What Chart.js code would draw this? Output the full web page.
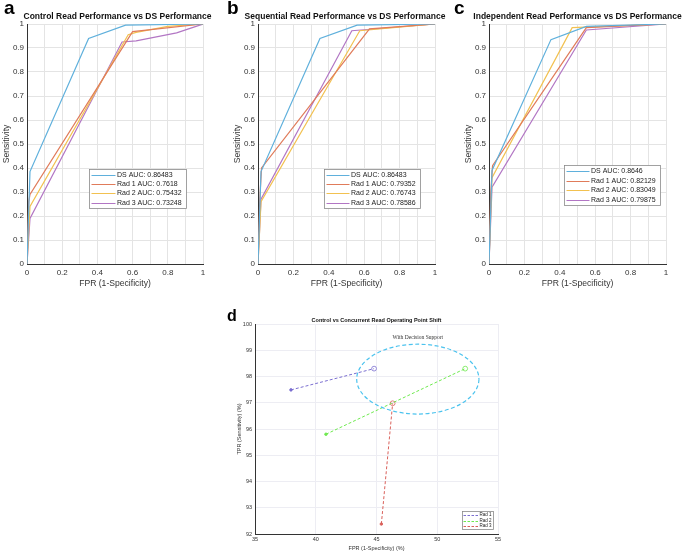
<!DOCTYPE html>
<html>
<head>
<meta charset="utf-8">
<script src="https://cdn.jsdelivr.net/npm/chart.js@4.4.0/dist/chart.umd.min.js"></script>
<style>
body { margin: 0; background: #fff; }
#fig { position: relative; width: 685px; height: 552px; overflow: hidden; font-family: 'Liberation Sans', Arial, sans-serif; }
#fig canvas { position: absolute; }
.tag { position: absolute; font-weight: bold; line-height: 1; color: #000; }
</style>
</head>
<body>
<div id="fig">
  <canvas id="rocA" width="235" height="296" style="left:0;top:0"></canvas>
  <canvas id="rocB" width="228" height="296" style="left:231px;top:0"></canvas>
  <canvas id="rocC" width="231" height="296" style="left:462px;top:0"></canvas>
  <canvas id="shiftD" width="289" height="252" style="left:232px;top:300px"></canvas>
  <div class="tag" style="left:4px;top:-2px;font-size:19px">a</div>
  <div class="tag" style="left:227px;top:-2px;font-size:19px">b</div>
  <div class="tag" style="left:454px;top:-2px;font-size:19px">c</div>
  <div class="tag" style="left:227px;top:308px;font-size:16px">d</div>
</div>
<script>
// ROC curves, [fpr, tpr]
const rocLabels = ['DS', 'Rad 1', 'Rad 2', 'Rad 3']
const rocColors = ['#5fb0dc', '#e07b5a', '#f2c150', '#b276c4']

const dsRoc = [[0, 0], [0.017, 0.385], [0.35, 0.94], [0.56, 0.995], [1, 1]]

const controlRad1 = [[0, 0], [0.01, 0.26], [0.017, 0.29], [0.6, 0.968], [1, 1]]
const controlRad2 = [[0, 0], [0.017, 0.24], [0.575, 0.955], [0.62, 0.965], [0.8, 0.99], [1, 1]]
const controlRad3 = [[0, 0], [0.017, 0.19], [0.54, 0.925], [0.62, 0.93], [0.85, 0.963], [1, 1]]
const controlAuc = ['0.86483', '0.7618', '0.75432', '0.73248']

const sequentialRad1 = [[0, 0], [0.01, 0.27], [0.02, 0.4], [0.63, 0.98], [1, 1]]
const sequentialRad2 = [[0, 0], [0.017, 0.26], [0.575, 0.972], [1, 1]]
const sequentialRad3 = [[0, 0], [0.017, 0.27], [0.53, 0.972], [0.6, 0.976], [1, 1]]
const sequentialAuc = ['0.86483', '0.79352', '0.76743', '0.78586']

const dsRocIndependent = [[0, 0], [0.017, 0.39], [0.35, 0.935], [0.55, 0.99], [1, 1]]
const independentRad1 = [[0, 0], [0.01, 0.3], [0.02, 0.41], [0.55, 0.985], [1, 1]]
const independentRad2 = [[0, 0], [0.017, 0.36], [0.47, 0.985], [1, 1]]
const independentRad3 = [[0, 0], [0.017, 0.32], [0.55, 0.975], [1, 1]]
const independentAuc = ['0.8646', '0.82129', '0.83049', '0.79875']

// operating point shift, [fpr %, tpr %] control -> concurrent
const shiftLabels = ['Rad 1', 'Rad 2', 'Rad 3']
const shiftColors = ['#7b6fd0', '#6ee94f', '#d9605a']
const rad1Shift = [[37.96, 97.49], [44.8, 98.3]]
const rad2Shift = [[40.84, 95.8], [52.3, 98.3]]
const rad3Shift = [[45.4, 92.38], [46.33, 96.98]]
const supportCenter = [48.4, 97.9]
const supportRadii = [5.03, 1.33]
const supportLabelAt = [48.4, 99.5]

Chart.defaults.font.family = "'Liberation Sans', Arial, sans-serif"
const axisInk = '#333'

const boxLegend = {
  id: 'boxLegend',
  afterDraw(chart, args, o) {
    const {ctx, chartArea} = chart
    const sets = chart.data.datasets
    ctx.save()
    ctx.font = o.font
    const textW = Math.max(...sets.map(d => ctx.measureText(d.label).width))
    const x0 = Math.round(chartArea.left + o.dx) + 0.5
    const y0 = Math.round(chartArea.top + o.dy) + 0.5
    const w = Math.round(o.pad + o.lineLen + o.gap + textW + o.padR)
    const h = Math.round(o.first * 2 + o.rowH * (sets.length - 1))
    ctx.fillStyle = '#fff'
    ctx.fillRect(x0, y0, w, h)
    ctx.strokeStyle = '#8a8a8a'
    ctx.lineWidth = 0.8
    ctx.strokeRect(x0, y0, w, h)
    sets.forEach((d, i) => {
      const y = y0 + o.first + i * o.rowH
      const ly = Math.round(y) + 0.5
      ctx.beginPath()
      ctx.setLineDash(o.dash || [])
      ctx.strokeStyle = d.borderColor
      ctx.lineWidth = 1
      ctx.moveTo(x0 + o.pad, ly)
      ctx.lineTo(x0 + o.pad + o.lineLen, ly)
      ctx.stroke()
      ctx.setLineDash([])
      ctx.fillStyle = '#222'
      ctx.textBaseline = 'middle'
      ctx.fillText(d.label, x0 + o.pad + o.lineLen + o.gap, y)
    })
    ctx.restore()
  }
}

const supportEllipse = {
  id: 'supportEllipse',
  afterDatasetsDraw(chart) {
    const {ctx, scales: {x, y}} = chart
    const cx = x.getPixelForValue(supportCenter[0])
    const cy = y.getPixelForValue(supportCenter[1])
    const rx = x.getPixelForValue(supportCenter[0] + supportRadii[0]) - cx
    const ry = cy - y.getPixelForValue(supportCenter[1] + supportRadii[1])
    ctx.save()
    ctx.beginPath()
    ctx.setLineDash([4, 2.5])
    ctx.strokeStyle = '#4cc3ee'
    ctx.lineWidth = 1.2
    ctx.ellipse(cx, cy, rx, ry, 0, 0, Math.PI * 2)
    ctx.stroke()
    ctx.setLineDash([])
    ctx.font = "5.5px 'Liberation Serif', serif"
    ctx.fillStyle = '#333'
    ctx.textAlign = 'center'
    ctx.textBaseline = 'middle'
    ctx.fillText('With Decision Support', x.getPixelForValue(supportLabelAt[0]), y.getPixelForValue(supportLabelAt[1]))
    ctx.restore()
  }
}

const tenth = v => String(Math.round(v * 10) / 10)

function rocChart(id, title, curves, auc, legendAt, rightW) {
  new Chart(document.getElementById(id), {
    type: 'line',
    data: {
      datasets: curves.map((c, i) => ({
        label: `${rocLabels[i]} AUC: ${auc[i]}`,
        data: c.map(([x, y]) => ({x, y})),
        xAxisID: 'x',
        yAxisID: 'y',
        borderColor: rocColors[i],
        borderWidth: 1.2,
        pointRadius: 0,
        tension: 0,
        fill: false,
      })),
    },
    options: {
      responsive: false,
      animation: false,
      events: [],
      plugins: {
        legend: {display: false},
        tooltip: {enabled: false},
        title: {
          display: true, text: title, color: '#111',
          font: {size: 8.5, weight: 'bold'},
          padding: {top: 12, bottom: 1.8},
        },
        boxLegend: Object.assign({font: '7px "Liberation Sans", Arial, sans-serif', pad: 2, gap: 1.5, padR: 4.5, rowH: 9.3, first: 5.3}, legendAt),
      },
      scales: {
        x: {
          type: 'linear', min: 0, max: 1,
          ticks: {stepSize: 0.1, autoSkip: false, maxRotation: 0, padding: 4, color: axisInk, font: {size: 8}, callback: (v, i) => (i % 2 ? '' : tenth(v))},
          grid: {color: '#e4e4e4', drawTicks: false},
          border: {color: axisInk},
          title: {display: true, text: 'FPR (1-Specificity)', color: axisInk, font: {size: 8.6}, padding: {top: 0, bottom: 7.3}},
          afterFit: s => { s.height = 32 },
        },
        y: {
          min: 0, max: 1,
          ticks: {stepSize: 0.1, autoSkip: false, padding: 3, color: axisInk, font: {size: 8}, callback: v => tenth(v)},
          grid: {color: '#e4e4e4', drawTicks: false},
          border: {color: axisInk},
          title: {display: true, text: 'Sensitivity', color: axisInk, font: {size: 8.6}, padding: {top: 1.5, bottom: 0}},
          afterFit: s => { s.width = 27 },
        },
        yR: {
          position: 'right',
          grid: {display: false},
          ticks: {display: false},
          border: {display: false},
          afterFit: s => { s.width = rightW },
        },
      },
    },
    plugins: [boxLegend],
  })
}

rocChart('rocA', 'Control Read Performance vs DS Performance',
  [dsRoc, controlRad1, controlRad2, controlRad3], controlAuc,
  {dx: 62, dy: 145, lineLen: 24}, 32)
rocChart('rocB', 'Sequential Read Performance vs DS Performance',
  [dsRoc, sequentialRad1, sequentialRad2, sequentialRad3], sequentialAuc,
  {dx: 66, dy: 145, lineLen: 23}, 24)
rocChart('rocC', 'Independent Read Performance vs DS Performance',
  [dsRocIndependent, independentRad1, independentRad2, independentRad3], independentAuc,
  {dx: 75, dy: 141.3, lineLen: 23, rowH: 9.6, first: 5.5}, 27)

new Chart(document.getElementById('shiftD'), {
  type: 'line',
  data: {
    datasets: [rad1Shift, rad2Shift, rad3Shift].map((s, i) => ({
      label: shiftLabels[i],
      data: s.map(([x, y]) => ({x, y})),
      xAxisID: 'x',
      yAxisID: 'y',
      borderColor: shiftColors[i],
      borderWidth: 1,
      borderDash: [3, 2],
      tension: 0,
      fill: false,
      pointRadius: [1.3, 2.4],
      pointBorderWidth: 0.8,
      pointBorderColor: shiftColors[i],
      pointBackgroundColor: [shiftColors[i], 'rgba(255,255,255,0)'],
    })),
  },
  options: {
    responsive: false,
    animation: false,
    events: [],
    plugins: {
      legend: {display: false},
      tooltip: {enabled: false},
      title: {
        display: true, text: 'Control vs Concurrent Read Operating Point Shift', color: '#111',
        font: {size: 5.5, weight: 'bold'},
        padding: {top: 16.7, bottom: 0.7},
      },
      boxLegend: {font: '4.5px "Liberation Sans", Arial, sans-serif', dx: 206.7, dy: 187, pad: 1, lineLen: 14.6, gap: 1.4, padR: 2.3, rowH: 5.7, first: 3.3, dash: [2.5, 1.5]},
    },
    scales: {
      x: {
        type: 'linear', min: 35, max: 55,
        ticks: {stepSize: 5, maxRotation: 0, padding: 2, color: axisInk, font: {size: 5.5}},
        grid: {color: '#ededf3', drawTicks: false},
        border: {color: axisInk},
        title: {display: true, text: 'FPR (1-Specificity) (%)', color: axisInk, font: {size: 5.5}, padding: {top: 0, bottom: 0.7}},
        afterFit: s => { s.height = 18 },
      },
      y: {
        min: 92, max: 100,
        ticks: {stepSize: 1, padding: 3, color: axisInk, font: {size: 5.5}},
        grid: {color: '#ededf3', drawTicks: false},
        border: {color: axisInk},
        title: {display: true, text: 'TPR (Sensitivity) (%)', color: axisInk, font: {size: 5.5}, padding: {top: 3.7, bottom: 0}},
        afterFit: s => { s.width = 23 },
      },
      yR: {
        position: 'right',
        grid: {display: false},
        ticks: {display: false},
        border: {display: false},
        afterFit: s => { s.width = 23 },
      },
    },
  },
  plugins: [supportEllipse, boxLegend],
})
</script>
</body>
</html>
